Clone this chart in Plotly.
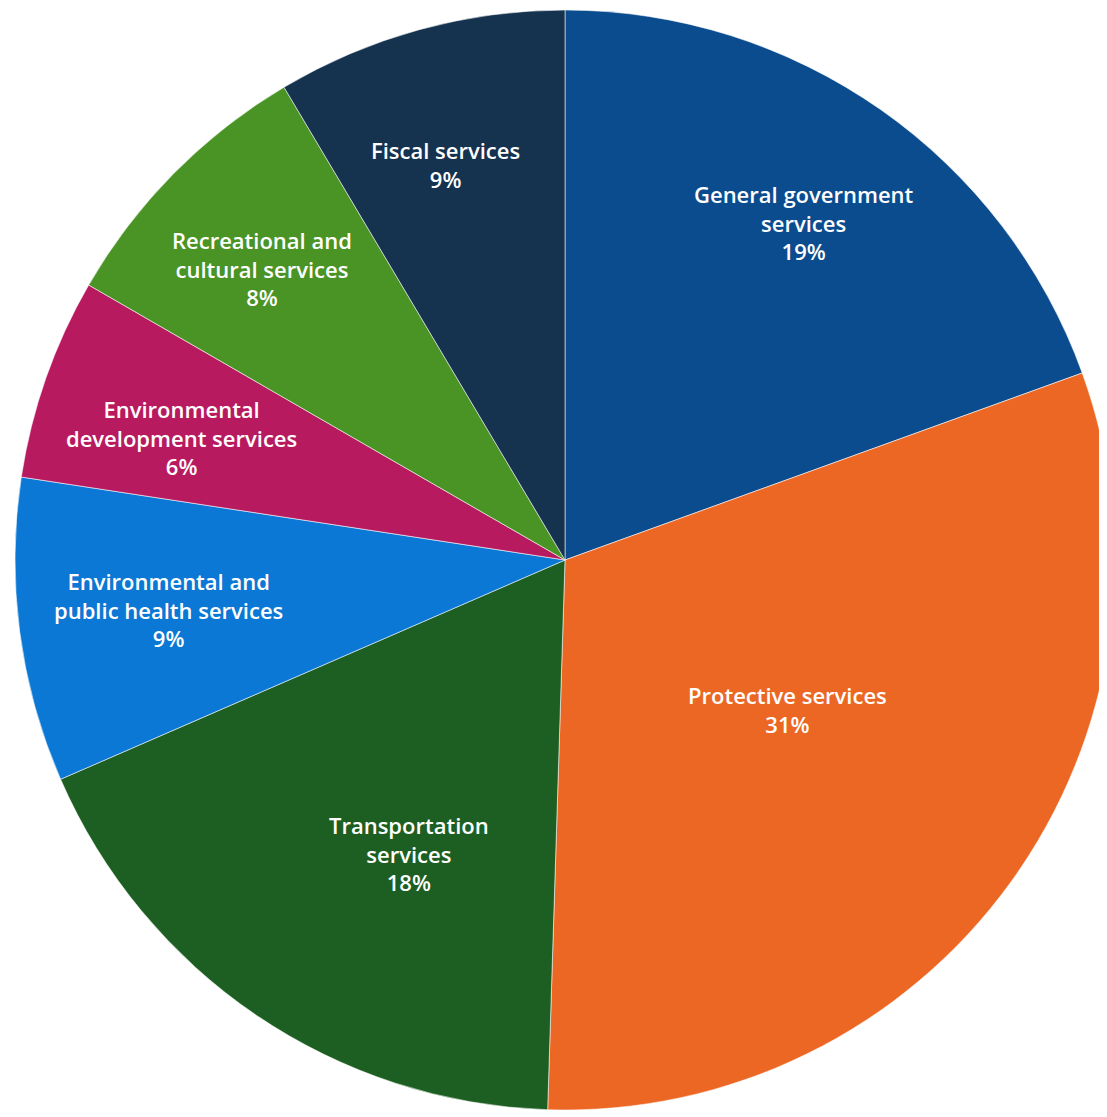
import math
import plotly.graph_objects as go

categories = [
    "General government services",
    "Protective services",
    "Transportation services",
    "Environmental and public health services",
    "Environmental development services",
    "Recreational and cultural services",
    "Fiscal services",
]
label_lines = [
    "General government<br>services",
    "Protective services",
    "Transportation<br>services",
    "Environmental and<br>public health services",
    "Environmental<br>development services",
    "Recreational and<br>cultural services",
    "Fiscal services",
]
values = [19.4, 30.9, 17.9, 8.9, 5.9, 8.1, 8.5]
colors = ["#0b4c8e", "#ec6724", "#1d5f22", "#0a78d4", "#b81a60", "#4a9426", "#15324f"]

# label placement style: radial fraction of the pie radius and small angular nudge (deg)
label_radius = [0.752, 0.487, 0.604, 0.727, 0.733, 0.765, 0.751]
label_nudge = [0.3, -2.0, -6.1, 0.3, -1.6, -0.7, -1.5]

W, H = 1107, 1117
dom_x = [7 / W, 1.0]
dom_y = [1 - 1104 / H, 1 - 0 / H]

fig = go.Figure(go.Pie(
    labels=categories,
    values=values,
    textinfo="none",
    marker=dict(colors=colors, line=dict(color="rgba(255,255,255,0.55)", width=1)),
    sort=False,
    direction="clockwise",
    rotation=0,
    showlegend=False,
    domain=dict(x=dom_x, y=dom_y),
))

# pie geometry derived from its domain
cx = (dom_x[0] + dom_x[1]) / 2
cy = (dom_y[0] + dom_y[1]) / 2
r_px = min((dom_x[1] - dom_x[0]) * W, (dom_y[1] - dom_y[0]) * H) / 2
total = sum(values)
cum = 0.0
for name, v, rf, nd in zip(label_lines, values, label_radius, label_nudge):
    mid = (cum + v / 2) / total * 360 + nd
    cum += v
    th = math.radians(mid)
    x = cx + rf * r_px * math.sin(th) / W
    y = cy + rf * r_px * math.cos(th) / H
    pct = round(v / total * 100)
    fig.add_annotation(
        x=x, y=y, xref="paper", yref="paper",
        xanchor="center", yanchor="middle", align="center",
        text=f"{name}<br>{pct}%", showarrow=False,
        font=dict(family="Open Sans", size=22, color="white", weight=600),
    )

fig.update_layout(
    width=W, height=H,
    margin=dict(l=0, r=0, t=0, b=0),
    paper_bgcolor="white", plot_bgcolor="white",
)
fig.write_html("out.html")
